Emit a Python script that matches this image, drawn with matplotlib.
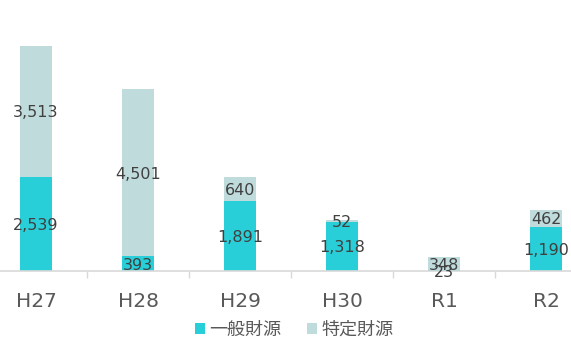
import matplotlib
matplotlib.use("Agg")
import matplotlib.pyplot as plt
import numpy as np

categories = ["H27", "H28", "H29", "H30", "R1", "R2"]
general = [2539, 393, 1891, 1318, 23, 1190]
specific = [3513, 4501, 640, 52, 348, 462]
series_names = ["一般財源", "特定財源"]

c_gen = "#29CFD8"
c_spe = "#C0DBDC"
txt = "#404040"

plt.rcParams['font.family'] = ['DejaVu Sans', 'Noto Sans CJK JP']

fig = plt.figure(figsize=(5.71, 3.38), dpi=100)
ax = fig.add_axes([-15/571, (338-271)/338, 612/571, 260.3/338])

x = np.arange(len(categories))
w = 0.31
b1 = ax.bar(x, general, w, color=c_gen, label=series_names[0], zorder=2)
b2 = ax.bar(x, specific, w, bottom=general, color=c_spe, label=series_names[1], zorder=2)

for i in range(len(categories)):
    ax.text(x[i], general[i] / 2, f"{general[i]:,}", ha="center", va="center_baseline",
            fontsize=11.5, color=txt, zorder=3)
    ax.text(x[i], general[i] + specific[i] / 2, f"{specific[i]:,}", ha="center", va="center_baseline",
            fontsize=11.5, color=txt, zorder=3)

ax.set_xlim(-0.5, len(categories) - 0.5)
ax.set_ylim(0, 7000)
ax.set_yticks([])
ax.set_xticks(x)
ax.set_xticklabels(categories, fontsize=14.5, color="#595959")
ax.set_xticks(np.arange(-0.5, len(categories)), minor=True)
ax.tick_params(axis="x", which="major", length=0, pad=15)
ax.tick_params(axis="x", which="minor", length=5, color="#D9D9D9", width=1)
for s in ["top", "right", "left"]:
    ax.spines[s].set_visible(False)
ax.spines["bottom"].set_color("#D9D9D9")
ax.spines["bottom"].set_linewidth(1.2)

leg = fig.legend(handles=[b1, b2], labels=series_names, loc="center", bbox_to_anchor=(294/571, 1 - 330/338),
                 ncol=2, frameon=False, handlelength=0.55, handleheight=0.55,
                 handletextpad=0.25, columnspacing=1.4, prop={'family': ['Noto Sans CJK JP'], 'size': 13})
for t in leg.get_texts():
    t.set_color("#595959")

fig.savefig("out.png", dpi=100)
